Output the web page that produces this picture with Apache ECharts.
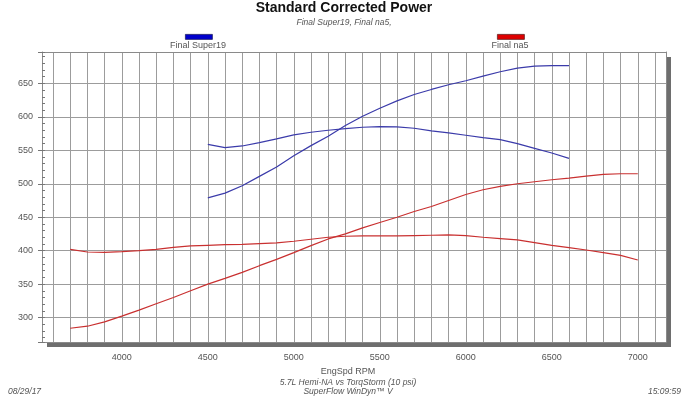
<!DOCTYPE html>
<html>
<head>
<meta charset="utf-8">
<title>Standard Corrected Power</title>
<script src="https://cdn.jsdelivr.net/npm/echarts@6/dist/echarts.min.js"></script>
<style>
  html, body { margin: 0; padding: 0; background: #fff; }
  #chart { width: 688px; height: 397px; }
</style>
</head>
<body>
<div id="chart"></div>
<script>
// rpm points for each run
const rpmSuper19 = [4500, 4600, 4700, 4800, 4900, 5000, 5100, 5200, 5300, 5400, 5500,
  5600, 5700, 5800, 5900, 6000, 6100, 6200, 6300, 6400, 6500, 6600]
const hpSuper19 = [479, 486, 497, 511, 525, 542, 557, 571, 587, 601, 613,
  624, 633.5, 641, 648, 654, 661, 667.5, 673, 676, 676.5, 676.5]
const tqSuper19 = [559, 554, 556.5, 561.5, 567, 573, 577, 580, 582.5, 584.5, 585.5,
  585, 583, 579, 576, 572.5, 569, 566, 560, 553, 546, 538]

const rpmNa5 = [3700, 3800, 3900, 4000, 4100, 4200, 4300, 4400, 4500, 4600, 4700,
  4800, 4900, 5000, 5100, 5200, 5300, 5400, 5500, 5600, 5700, 5800, 5900, 6000,
  6100, 6200, 6300, 6400, 6500, 6600, 6700, 6800, 6900, 7000]
const hpNa5 = [284, 287, 293.5, 302, 311, 320.5, 330, 340, 350, 358.5, 367.5,
  377.5, 387, 397, 407.5, 417.5, 425, 434, 442, 450, 458.5, 466, 475, 484,
  491, 496, 500, 503, 506, 508.5, 511.5, 514, 515, 515]
const tqNa5 = [402, 398, 397.5, 398.5, 400, 402, 405, 407, 408, 409, 409.5,
  410.5, 411.5, 414, 417, 420, 421.5, 422, 422, 422, 422.5, 423, 423.5, 422.5,
  420, 418, 416, 412, 408, 404.5, 401, 397, 393, 386]

const legendNames = ['Final Super19', 'Final na5']
const xLabelStep = 500
const yLabelStep = 50

const pairs = (xs, ys) => xs.map((x, i) => [x, ys[i]])

const chart = echarts.init(document.getElementById('chart'))
const font = 'Liberation Sans, Arial, sans-serif'
const blue = '#3b3baa'
const red = '#c93030'
const gridColor = '#9c9c9c'

const option = {
  animation: false,
  textStyle: { fontFamily: font },
  title: {
    text: 'Standard Corrected Power',
    subtext: 'Final Super19, Final na5,',
    left: 'center',
    top: 0,
    padding: [1, 0, 0, 0],
    itemGap: 3,
    textStyle: { fontSize: 14, fontWeight: 'bold', color: '#111', fontFamily: font },
    subtextStyle: { fontSize: 8.5, fontStyle: 'italic', color: '#555', fontFamily: font }
  },
  grid: {
    left: 42,
    top: 52,
    right: 22,
    bottom: 55,
    show: true,
    backgroundColor: '#fff',
    borderWidth: 0,
    shadowColor: '#6e6e6e',
    shadowBlur: 0,
    shadowOffsetX: 5,
    shadowOffsetY: 5
  },
  xAxis: [
    {
      type: 'value',
      min: 3536,
      max: 7164,
      splitNumber: 30,
      name: 'EngSpd RPM',
      nameLocation: 'middle',
      nameGap: 20,
      nameTextStyle: { fontSize: 9, color: '#555', padding: [0, 12, 0, 0] },
      axisLine: { show: true, onZero: false, lineStyle: { color: '#8a8a8a' } },
      axisTick: { show: false },
      axisLabel: {
        margin: 11,
        fontSize: 9,
        color: '#555',
        formatter: v => (v % xLabelStep === 0 ? String(v) : '')
      },
      splitLine: { show: true, lineStyle: { color: gridColor, width: 1 } }
    },
    {
      // top frame edge
      type: 'value',
      position: 'top',
      min: 3536,
      max: 7164,
      axisLine: { show: true, onZero: false, lineStyle: { color: '#8a8a8a' } },
      axisTick: { show: false },
      axisLabel: { show: false },
      splitLine: { show: false }
    }
  ],
  yAxis: [
    {
      type: 'value',
      min: 263.4,
      max: 697,
      splitNumber: 9,
      axisLine: { show: true, onZero: false, lineStyle: { color: '#8a8a8a' } },
      axisTick: { show: true, length: 4, lineStyle: { color: '#777' } },
      axisLabel: {
        margin: 9,
        fontSize: 9,
        color: '#555',
        formatter: v => (v % yLabelStep === 0 ? String(v) : '')
      },
      splitLine: { show: true, lineStyle: { color: gridColor, width: 1 } }
    },
    {
      // small inside ticks every 10
      type: 'value',
      position: 'left',
      min: 263.4,
      max: 697,
      splitNumber: 43,
      axisLine: { show: false },
      axisTick: { show: true, inside: true, length: 3, lineStyle: { color: '#777' } },
      axisLabel: { show: false },
      splitLine: { show: false }
    },
    {
      // right frame edge
      type: 'value',
      position: 'right',
      min: 263.4,
      max: 697,
      axisLine: { show: true, onZero: false, lineStyle: { color: '#8a8a8a' } },
      axisTick: { show: false },
      axisLabel: { show: false },
      splitLine: { show: false }
    }
  ],
  series: [
    {
      name: legendNames[0],
      type: 'line',
      data: pairs(rpmSuper19, hpSuper19),
      showSymbol: false,
      lineStyle: { color: blue, width: 1.2 },
      itemStyle: { color: blue }
    },
    {
      name: legendNames[0],
      type: 'line',
      data: pairs(rpmSuper19, tqSuper19),
      showSymbol: false,
      lineStyle: { color: blue, width: 1.2 },
      itemStyle: { color: blue }
    },
    {
      name: legendNames[1],
      type: 'line',
      data: pairs(rpmNa5, hpNa5),
      showSymbol: false,
      lineStyle: { color: red, width: 1.2 },
      itemStyle: { color: red }
    },
    {
      name: legendNames[1],
      type: 'line',
      data: pairs(rpmNa5, tqNa5),
      showSymbol: false,
      lineStyle: { color: red, width: 1.2 },
      itemStyle: { color: red }
    }
  ],
  graphic: [
    // legend swatches with names under them
    { type: 'rect', left: 185, top: 34, shape: { width: 27, height: 5 },
      style: { fill: '#0000cc', stroke: '#222266', lineWidth: 0.8 } },
    { type: 'text', x: 198, y: 46, style: { text: legendNames[0], font: '9px ' + font,
      fill: '#555', align: 'center', verticalAlign: 'middle' } },
    { type: 'rect', left: 497, top: 34, shape: { width: 27, height: 5 },
      style: { fill: '#dd0000', stroke: '#662222', lineWidth: 0.8 } },
    { type: 'text', x: 510, y: 46, style: { text: legendNames[1], font: '9px ' + font,
      fill: '#555', align: 'center', verticalAlign: 'middle' } },
    // footer
    { type: 'text', x: 348, y: 383, style: { text: '5.7L Hemi-NA vs TorqStorm (10 psi)',
      font: 'italic 8.5px ' + font, fill: '#555', align: 'center', verticalAlign: 'middle' } },
    { type: 'text', x: 348, y: 392, style: { text: 'SuperFlow WinDyn\u2122 V',
      font: 'italic 8.5px ' + font, fill: '#555', align: 'center', verticalAlign: 'middle' } },
    { type: 'text', x: 8, y: 392, style: { text: '08/29/17',
      font: 'italic 8.5px ' + font, fill: '#555', align: 'left', verticalAlign: 'middle' } },
    { type: 'text', x: 681, y: 392, style: { text: '15:09:59',
      font: 'italic 8.5px ' + font, fill: '#555', align: 'right', verticalAlign: 'middle' } }
  ]
}

chart.setOption(option)
</script>
</body>
</html>
